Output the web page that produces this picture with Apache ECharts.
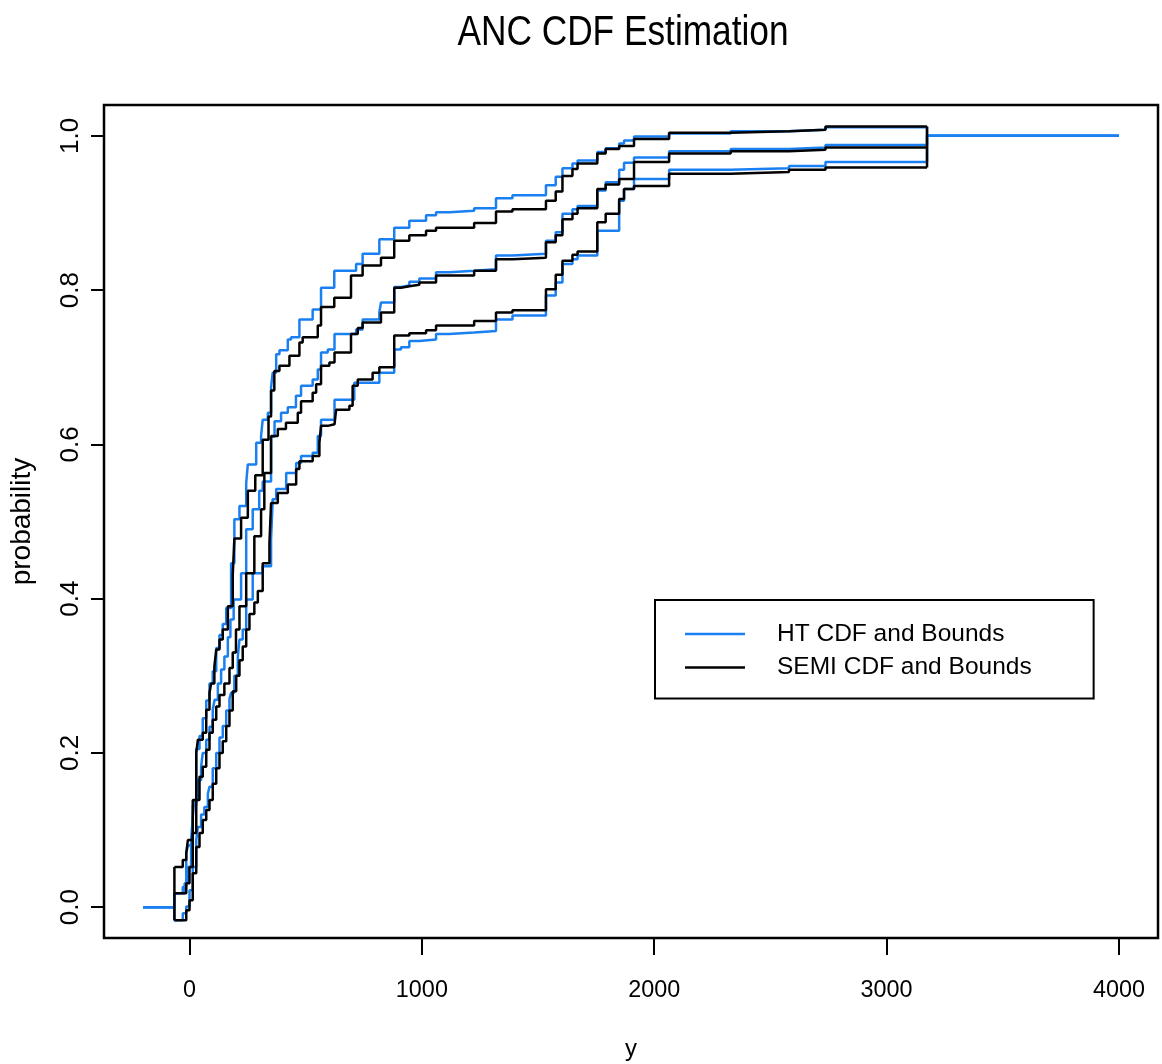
<!DOCTYPE html>
<html><head><meta charset="utf-8">
<script src="https://cdn.jsdelivr.net/npm/echarts@6/dist/echarts.min.js"></script>
<style>html,body{margin:0;padding:0;background:#fff}#c{width:1162px;height:1064px}</style>
</head><body><div id="c"></div>
<script>
const xTicks = [0, 1000, 2000, 3000, 4000];
const yTicks = [0, 0.2, 0.4, 0.6, 0.8, 1.0];
const legendNames = ['HT CDF and Bounds', 'SEMI CDF and Bounds'];
const titleText = 'ANC CDF Estimation';

const htUpper = [[-200,0],[-65,0.018],[-29,0.026],[-14,0.07],[-7,0.08],[14,0.132],[29,0.205],[43,0.222],[57,0.245],[72,0.268],[86,0.29],[100,0.306],[115,0.336],[129,0.353],[143,0.367],[158,0.388],[179,0.446],[193,0.503],[215,0.52],[244,0.55],[251,0.574],[287,0.602],[308,0.611],[315,0.632],[337,0.641],[351,0.674],[358,0.693],[373,0.717],[387,0.722],[423,0.736],[437,0.739],[473,0.762],[530,0.775],[566,0.803],[623,0.825],[717,0.834],[745,0.847],[817,0.866],[881,0.881],[946,0.89],[1018,0.897],[1061,0.901],[1118,0.903],[1225,0.906],[1319,0.919],[1390,0.923],[1534,0.936],[1576,0.947],[1605,0.958],[1648,0.964],[1670,0.968],[1755,0.979],[1791,0.984],[1849,0.99],[1870,0.994],[1913,0.999],[2064,1.003],[2329,1.006],[2580,1.008],[2737,1.011],[3174,1.0],[4000,1.0]];

const htMid = [[-200,0],[-65,0.018],[-21,0.031],[-7,0.052],[7,0.087],[14,0.117],[21,0.139],[36,0.165],[50,0.182],[57,0.2],[72,0.217],[86,0.234],[100,0.256],[108,0.269],[122,0.29],[136,0.308],[150,0.325],[165,0.35],[176,0.373],[190,0.399],[222,0.433],[244,0.49],[272,0.516],[300,0.54],[315,0.552],[351,0.61],[366,0.63],[394,0.641],[423,0.648],[458,0.663],[480,0.676],[530,0.684],[552,0.697],[566,0.719],[595,0.723],[624,0.743],[717,0.749],[745,0.762],[817,0.771],[824,0.784],[881,0.804],[910,0.806],[946,0.811],[989,0.815],[1061,0.823],[1118,0.825],[1225,0.827],[1319,0.845],[1390,0.847],[1534,0.864],[1576,0.875],[1605,0.899],[1648,0.905],[1670,0.909],[1755,0.929],[1791,0.94],[1849,0.956],[1870,0.965],[1913,0.972],[2064,0.98],[2329,0.983],[2580,0.985],[2737,0.988],[3174,1.0],[4000,1.0]];

const htLower = [[-200,0],[-65,-0.017],[-29,-0.008],[-14,0.001],[0,0.022],[14,0.052],[29,0.087],[36,0.104],[50,0.12],[64,0.13],[79,0.147],[86,0.156],[100,0.18],[115,0.2],[129,0.22],[143,0.235],[158,0.255],[172,0.27],[179,0.278],[193,0.3],[208,0.325],[215,0.347],[229,0.36],[244,0.399],[272,0.433],[315,0.442],[351,0.477],[358,0.529],[373,0.542],[416,0.563],[459,0.576],[480,0.585],[530,0.589],[552,0.611],[566,0.632],[624,0.658],[709,0.68],[817,0.693],[881,0.723],[910,0.726],[946,0.734],[989,0.736],[1061,0.743],[1118,0.745],[1225,0.747],[1319,0.762],[1390,0.767],[1534,0.793],[1576,0.81],[1605,0.834],[1648,0.84],[1670,0.845],[1755,0.877],[1849,0.916],[1870,0.931],[1913,0.944],[2064,0.956],[2329,0.958],[2580,0.961],[2737,0.966],[3174,1.0],[4000,1.0]];

const semiUpper = [[-65,0.052],[-29,0.061],[-14,0.07],[-7,0.087],[14,0.139],[29,0.2],[36,0.217],[57,0.226],[72,0.256],[86,0.278],[93,0.29],[107,0.312],[115,0.334],[129,0.347],[143,0.36],[165,0.39],[186,0.43],[193,0.478],[222,0.505],[251,0.54],[283,0.56],[315,0.606],[340,0.636],[351,0.67],[365,0.695],[387,0.702],[430,0.715],[473,0.732],[487,0.739],[552,0.754],[566,0.778],[623,0.79],[695,0.819],[745,0.832],[824,0.842],[881,0.864],[946,0.871],[1018,0.877],[1061,0.881],[1225,0.887],[1319,0.902],[1390,0.905],[1534,0.916],[1576,0.928],[1605,0.948],[1648,0.957],[1670,0.964],[1755,0.977],[1791,0.983],[1849,0.987],[1913,0.996],[2064,1.004],[2329,1.006],[2580,1.008],[2737,1.012],[3174,1.012]];

const semiMid = [[-65,0.018],[-14,0.031],[0,0.052],[14,0.096],[29,0.139],[43,0.169],[57,0.182],[72,0.204],[86,0.226],[100,0.243],[115,0.26],[129,0.275],[150,0.29],[172,0.31],[186,0.33],[200,0.36],[215,0.39],[244,0.433],[279,0.481],[308,0.516],[322,0.563],[351,0.611],[380,0.62],[415,0.628],[466,0.641],[480,0.656],[530,0.667],[545,0.678],[566,0.702],[602,0.706],[624,0.719],[695,0.743],[724,0.751],[745,0.758],[824,0.771],[881,0.803],[910,0.805],[946,0.807],[989,0.81],[1061,0.819],[1225,0.825],[1319,0.84],[1390,0.842],[1534,0.862],[1576,0.871],[1605,0.892],[1648,0.899],[1670,0.906],[1755,0.931],[1791,0.937],[1849,0.944],[1913,0.966],[2064,0.977],[2329,0.98],[2580,0.982],[2737,0.985],[3174,0.985]];

const semiLower = [[-65,-0.017],[-14,-0.004],[0,0.009],[14,0.044],[29,0.078],[43,0.096],[57,0.113],[72,0.126],[86,0.139],[100,0.16],[115,0.18],[129,0.2],[143,0.215],[158,0.235],[172,0.255],[186,0.28],[201,0.3],[215,0.32],[229,0.338],[244,0.36],[258,0.38],[279,0.395],[294,0.41],[315,0.446],[344,0.472],[351,0.524],[380,0.537],[423,0.548],[459,0.568],[473,0.578],[530,0.585],[559,0.602],[566,0.624],[595,0.626],[624,0.628],[631,0.645],[688,0.65],[702,0.676],[724,0.684],[788,0.693],[817,0.7],[881,0.741],[946,0.744],[1018,0.748],[1061,0.754],[1225,0.76],[1319,0.771],[1390,0.774],[1534,0.801],[1576,0.82],[1605,0.838],[1648,0.846],[1670,0.85],[1755,0.888],[1791,0.899],[1849,0.918],[1870,0.931],[1913,0.935],[2064,0.951],[2329,0.953],[2580,0.956],[2737,0.959],[3174,0.959]];

const BLUE = '#1a80f2';
const BLACK = '#000000';
const SANS = '"Liberation Sans", Arial, Helvetica, sans-serif';

function stepSeries(name, data, color) {
  return { type: 'line', name: name, data: data, step: 'end', showSymbol: false, symbol: 'none',
    lineStyle: { color: color, width: 2.5 }, itemStyle: { color: color }, silent: true, animation: false };
}
function plainSeries(name, data, color) {
  return { type: 'line', name: name, data: data, showSymbol: false, symbol: 'none',
    lineStyle: { color: color, width: 2.5 }, itemStyle: { color: color }, silent: true, animation: false };
}
const first = a => a[0], last = a => a[a.length - 1];
const semiStartJoin = [[first(semiUpper)[0], first(semiLower)[1]], [first(semiUpper)[0], first(semiUpper)[1]]];
const semiEndJoin = [[last(semiUpper)[0], last(semiLower)[1]], [last(semiUpper)[0], last(semiUpper)[1]]];

const chart = echarts.init(document.getElementById('c'), null, { renderer: 'canvas' });
chart.setOption({
  animation: false,
  backgroundColor: '#ffffff',
  graphic: [{ type: 'text', x: 623, y: 33, scaleX: 0.82, silent: true,
    style: { text: titleText, fontFamily: SANS, fontSize: 43, fill: '#000', align: 'center', verticalAlign: 'middle' } }],
  grid: { left: 104, right: 4, top: 105, bottom: 126, show: true, borderColor: '#000', borderWidth: 2.5,
    containLabel: false, outerBoundsMode: 'none' },
  legend: { data: legendNames, orient: 'vertical', left: 655, top: 600, selectedMode: false,
    icon: 'rect', itemWidth: 60, itemHeight: 2.5, itemGap: 8.5,
    padding: [21.5, 62, 18.5, 30], borderColor: '#000', borderWidth: 2, borderRadius: 0,
    textStyle: { fontFamily: SANS, fontSize: 24.5, color: '#000', padding: [0, 0, 0, 27] } },
  xAxis: { type: 'value', min: -368, max: 4168, name: 'y', nameLocation: 'middle', nameGap: 99,
    nameTextStyle: { fontFamily: SANS, fontSize: 24, color: '#000' },
    axisLine: { show: false, onZero: false }, splitLine: { show: false },
    axisTick: { show: true, inside: false, length: 17, lineStyle: { color: '#000', width: 2 }, customValues: xTicks },
    axisLabel: { customValues: xTicks, margin: 41, fontFamily: SANS, fontSize: 23.4, color: '#000',
      formatter: v => String(v) } },
  yAxis: { type: 'value', min: -0.04, max: 1.04, name: 'probability', nameLocation: 'middle', nameGap: 68,
    nameTextStyle: { fontFamily: SANS, fontSize: 28, color: '#000' },
    axisLine: { show: false, onZero: false }, splitLine: { show: false },
    axisTick: { show: true, inside: false, length: 13, lineStyle: { color: '#000', width: 2 }, customValues: yTicks },
    axisLabel: { customValues: yTicks, rotate: 90, margin: 20, fontFamily: SANS, fontSize: 26, color: '#000',
      formatter: v => v.toFixed(1) } },
  series: [
    stepSeries(legendNames[0], htUpper, BLUE),
    stepSeries(legendNames[0], htMid, BLUE),
    stepSeries(legendNames[0], htLower, BLUE),
    stepSeries(legendNames[1], semiUpper, BLACK),
    stepSeries(legendNames[1], semiMid, BLACK),
    stepSeries(legendNames[1], semiLower, BLACK),
    plainSeries(legendNames[1], semiStartJoin, BLACK),
    plainSeries(legendNames[1], semiEndJoin, BLACK)
  ]
});
</script></body></html>
